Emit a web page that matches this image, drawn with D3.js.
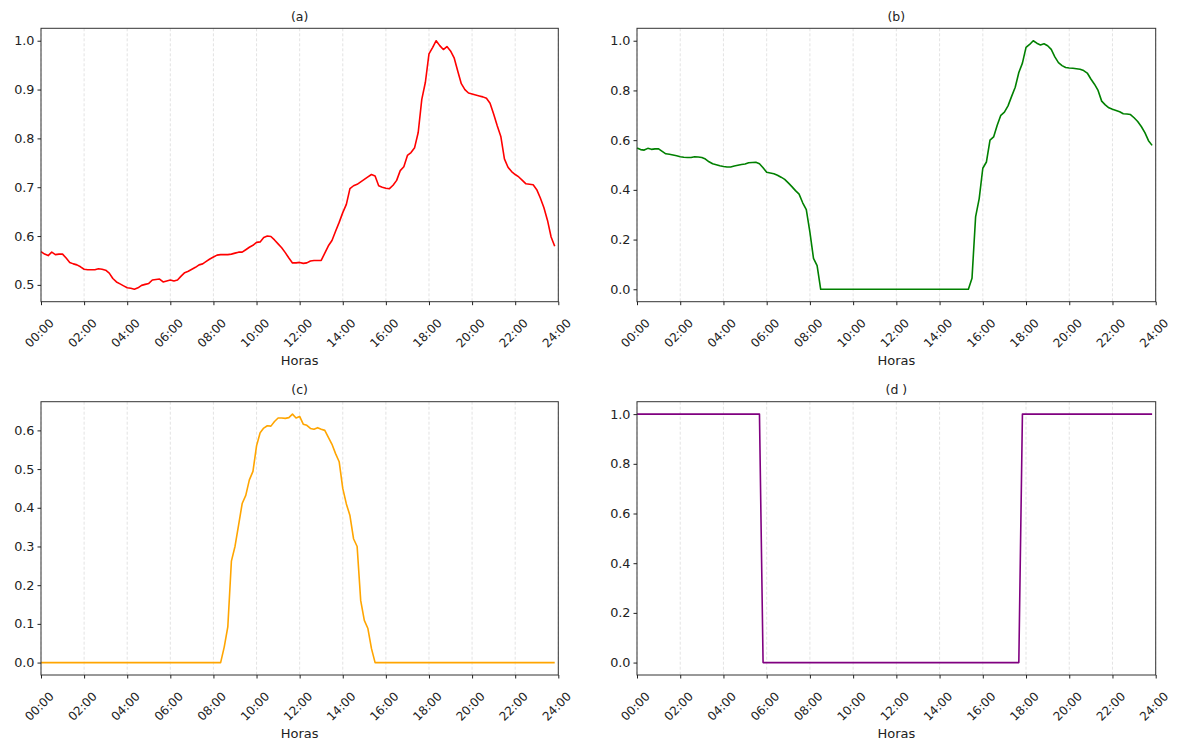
<!DOCTYPE html>
<html><head><meta charset="utf-8">
<script src="https://cdn.jsdelivr.net/npm/d3@7"></script>
<style>
html,body{margin:0;padding:0;background:#fff;}
svg text{font-family:"DejaVu Sans",sans-serif;fill:#222;}
</style></head>
<body><svg id="chart" width="1178" height="742"></svg>
<script>
// Sample times: every 10 minutes from 00:00 to 23:50 (144 samples)
const sampleMinutes = 10;

const xTickHours = [0,2,4,6,8,10,12,14,16,18,20,22,24];
const xTickLabels = ["00:00","02:00","04:00","06:00","08:00","10:00","12:00","14:00","16:00","18:00","20:00","22:00","24:00"];

const titles = ["(a)","(b)","(c)","(d )"];
const xLabel = "Horas";

// (a)
const seriesA = [
0.568,0.563,0.560,0.567,0.562,0.563,0.563,0.555,0.546,0.543,0.541,0.537,
0.532,0.531,0.531,0.531,0.533,0.532,0.530,0.524,0.513,0.506,0.502,0.498,
0.494,0.493,0.491,0.494,0.499,0.501,0.503,0.510,0.511,0.512,0.506,0.508,
0.510,0.508,0.510,0.518,0.525,0.528,0.532,0.536,0.541,0.543,0.548,0.553,
0.557,0.561,0.562,0.562,0.562,0.563,0.565,0.567,0.567,0.572,0.577,0.581,
0.587,0.588,0.597,0.600,0.599,0.592,0.584,0.576,0.566,0.555,0.545,0.545,
0.546,0.544,0.545,0.549,0.550,0.550,0.550,0.565,0.580,0.591,0.610,0.628,
0.648,0.665,0.697,0.703,0.706,0.711,0.716,0.721,0.726,0.723,0.703,0.700,
0.698,0.697,0.704,0.714,0.734,0.742,0.765,0.771,0.781,0.812,0.880,0.915,
0.973,0.986,1.000,0.990,0.982,0.988,0.979,0.965,0.938,0.912,0.900,0.893,
0.891,0.889,0.887,0.885,0.882,0.872,0.850,0.826,0.804,0.758,0.741,0.732,
0.726,0.721,0.714,0.707,0.706,0.705,0.695,0.678,0.658,0.632,0.598,0.579];

// (b)
const seriesB = [
0.568,0.562,0.560,0.567,0.563,0.565,0.565,0.555,0.545,0.543,0.540,0.537,
0.533,0.531,0.530,0.530,0.533,0.532,0.530,0.524,0.513,0.505,0.501,0.497,
0.494,0.492,0.492,0.496,0.499,0.502,0.504,0.509,0.510,0.511,0.505,0.489,
0.471,0.468,0.465,0.459,0.451,0.442,0.428,0.413,0.397,0.383,0.348,0.320,
0.230,0.124,0.095,0.000,0.000,0.000,0.000,0.000,0.000,0.000,0.000,0.000,
0.000,0.000,0.000,0.000,0.000,0.000,0.000,0.000,0.000,0.000,0.000,0.000,
0.000,0.000,0.000,0.000,0.000,0.000,0.000,0.000,0.000,0.000,0.000,0.000,
0.000,0.000,0.000,0.000,0.000,0.000,0.000,0.000,0.000,0.044,0.291,0.365,
0.487,0.512,0.600,0.613,0.660,0.700,0.713,0.738,0.776,0.813,0.872,0.910,
0.973,0.985,1.000,0.990,0.983,0.988,0.980,0.965,0.935,0.912,0.900,0.892,
0.890,0.889,0.887,0.885,0.880,0.870,0.846,0.825,0.800,0.757,0.742,0.730,
0.724,0.719,0.714,0.706,0.705,0.703,0.690,0.675,0.655,0.630,0.598,0.579];

// (c)
const seriesC = [
0,0,0,0,0,0,0,0,0,0,0,0,
0,0,0,0,0,0,0,0,0,0,0,0,
0,0,0,0,0,0,0,0,0,0,0,0,
0,0,0,0,0,0,0,0,0,0,0,0,
0,0,0.000,0.040,0.092,0.262,0.300,0.355,0.411,0.432,0.472,0.494,
0.560,0.594,0.606,0.612,0.611,0.623,0.632,0.632,0.631,0.633,0.642,0.632,
0.636,0.616,0.613,0.605,0.603,0.607,0.603,0.600,0.582,0.564,0.540,0.519,
0.450,0.410,0.380,0.320,0.300,0.160,0.109,0.088,0.036,0.000,0,0,
0,0,0,0,0,0,0,0,0,0,0,0,
0,0,0,0,0,0,0,0,0,0,0,0,
0,0,0,0,0,0,0,0,0,0,0,0,
0,0,0,0,0,0,0,0,0,0,0,0];

// (d)
const seriesD = [
1,1,1,1,1,1,1,1,1,1,1,1,
1,1,1,1,1,1,1,1,1,1,1,1,
1,1,1,1,1,1,1,1,1,1,1,0,
0,0,0,0,0,0,0,0,0,0,0,0,
0,0,0,0,0,0,0,0,0,0,0,0,
0,0,0,0,0,0,0,0,0,0,0,0,
0,0,0,0,0,0,0,0,0,0,0,0,
0,0,0,0,0,0,0,0,0,0,0,0,
0,0,0,0,0,0,0,0,0,0,0,1,
1,1,1,1,1,1,1,1,1,1,1,1,
1,1,1,1,1,1,1,1,1,1,1,1,
1,1,1,1,1,1,1,1,1,1,1,1];

const yTicksA = [0.5,0.6,0.7,0.8,0.9,1.0];
const yTicksB = [0.0,0.2,0.4,0.6,0.8,1.0];
const yTicksC = [0.0,0.1,0.2,0.3,0.4,0.5,0.6];
const yTicksD = [0.0,0.2,0.4,0.6,0.8,1.0];

const colors = ["#ff0000","#008000","#ffa500","#800080"];

// ---- layout ----
const panels = [
  {x0:41,  x1:558.3,  y0:28.3,  y1:301.7, values:seriesA, ticks:yTicksA, color:colors[0], title:titles[0]},
  {x0:637, x1:1155.7, y0:28.3,  y1:301.7, values:seriesB, ticks:yTicksB, color:colors[1], title:titles[1]},
  {x0:41,  x1:558.3,  y0:401.7, y1:675,   values:seriesC, ticks:yTicksC, color:colors[2], title:titles[2]},
  {x0:637, x1:1155.7, y0:401.7, y1:675,   values:seriesD, ticks:yTicksD, color:colors[3], title:titles[3]}
];

const svg = d3.select("#chart");
const hoursOf = i => i * sampleMinutes / 60;

panels.forEach(p => {
  const g = svg.append("g");
  const x = d3.scaleLinear().domain([0, 24]).range([p.x0, p.x1]);
  const [mn, mx] = d3.extent(p.values);
  const pad = (mx - mn) * 0.05;
  const y = d3.scaleLinear().domain([mn - pad, mx + pad]).range([p.y1, p.y0]);

  // grid (vertical dashed)
  g.selectAll("line.grid").data(xTickHours).enter().append("line")
    .attr("x1", d => x(d)).attr("x2", d => x(d))
    .attr("y1", p.y0).attr("y2", p.y1)
    .attr("stroke", "#b0b0b0").attr("stroke-opacity", 0.45)
    .attr("stroke-width", 0.8).attr("stroke-dasharray", "3,2");

  // line
  const line = d3.line().x((d, i) => x(hoursOf(i))).y(d => y(d));
  g.append("path").datum(p.values)
    .attr("d", line).attr("fill", "none")
    .attr("stroke", p.color).attr("stroke-width", 1.6)
    .attr("stroke-linejoin", "round");

  // frame
  g.append("rect").attr("x", p.x0).attr("y", p.y0)
    .attr("width", p.x1 - p.x0).attr("height", p.y1 - p.y0)
    .attr("fill", "none").attr("stroke", "#333").attr("stroke-width", 1);

  // x axis
  const xa = g.append("g").attr("transform", `translate(0,${p.y1})`)
    .call(d3.axisBottom(x).tickValues(xTickHours).tickSize(3.5).tickFormat((d, i) => xTickLabels[i]));
  xa.select(".domain").remove();
  xa.selectAll(".tick line").attr("stroke", "#222");
  xa.selectAll(".tick text")
    .attr("y", 0).attr("dy", 0)
    .attr("transform", "translate(-2,31.5) rotate(-45)")
    .attr("text-anchor", "middle").attr("dominant-baseline", "central")
    .style("font-size", "12px").style("font-family", "DejaVu Sans");

  // y axis
  const ya = g.append("g").attr("transform", `translate(${p.x0},0)`)
    .call(d3.axisLeft(y).tickValues(p.ticks).tickSize(3.5).tickFormat(d3.format(".1f")));
  ya.select(".domain").remove();
  ya.selectAll(".tick line").attr("stroke", "#222");
  ya.selectAll(".tick text").attr("x", -6.5)
    .style("font-size", "12.8px").style("font-family", "DejaVu Sans");

  // title
  g.append("text").attr("x", (p.x0 + p.x1) / 2).attr("y", p.y0 - 12)
    .attr("text-anchor", "middle").attr("dominant-baseline", "central")
    .style("font-size", "12.5px").text(p.title);

  // x label
  g.append("text").attr("x", (p.x0 + p.x1) / 2).attr("y", p.y1 + 58.5)
    .attr("text-anchor", "middle").attr("dominant-baseline", "central")
    .style("font-size", "13px").text(xLabel);
});
</script></body></html>
